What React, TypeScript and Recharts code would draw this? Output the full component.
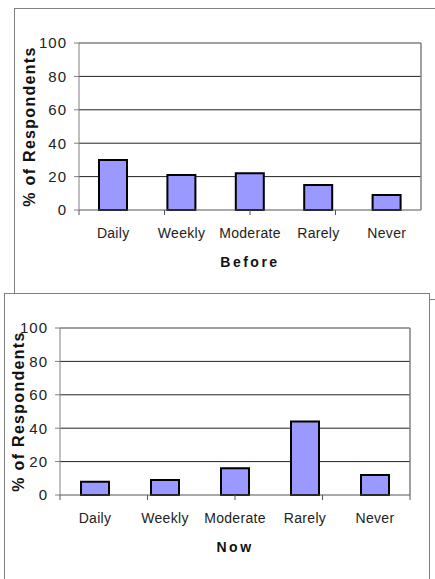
import React from 'react';
import { BarChart, Bar, XAxis, YAxis, CartesianGrid } from 'recharts';

const categories = ['Daily', 'Weekly', 'Moderate', 'Rarely', 'Never'];
const beforeValues = [30, 21, 22, 15, 9];
const nowValues = [8, 9, 16, 44, 12];
const yTicks = [0, 20, 40, 60, 80, 100];
const gridValues = [20, 40, 60, 80];
const boundaryTicks = [0, 1, 2, 3, 4, 5];

const FONT = 'Arial, "Liberation Sans", sans-serif';
const GRAY = '#808080';

type PanelProps = {
  values: number[];
  title: string;
  plotLeft: number;
  plotRight: number;
  labelX: number;
};

function Panel({ values, title, plotLeft, plotRight, labelX }: PanelProps) {
  const data = categories.map((c, i) => ({ name: c, value: values[i] }));
  const W = 435;
  const H = 290;
  return (
    <BarChart
      width={W}
      height={H}
      data={data}
      margin={{ top: 42, right: W - plotRight - 1, bottom: 0, left: 0 }}
      barSize={28}
    >
      <CartesianGrid
        xAxisId="cat"
        vertical={false}
        horizontalValues={gridValues}
        stroke="#222"
        strokeWidth={1}
      />
      <XAxis
        xAxisId="bound"
        type="number"
        domain={[0, 5]}
        ticks={boundaryTicks}
        allowDataOverflow
        height={1}
        tick={() => <g />}
        tickSize={5}
        tickLine={{ stroke: '#555' }}
        axisLine={{ stroke: '#555' }}
      />
      <XAxis
        xAxisId="cat"
        dataKey="name"
        height={79}
        axisLine={false}
        tickLine={false}
        tickMargin={11}
        tick={{ fill: '#222', fontSize: 14, fontFamily: FONT, letterSpacing: 0.3 }}
        interval={0}
        label={{
          value: title,
          position: 'insideBottom',
          offset: 23,
          fill: '#111',
          fontSize: 14,
          fontWeight: 'bold',
          fontFamily: FONT,
          letterSpacing: 2.5,
        }}
      />
      <XAxis
        xAxisId="top"
        orientation="top"
        height={1}
        tick={false}
        tickLine={false}
        axisLine={{ stroke: GRAY, strokeWidth: 1.5 }}
      />
      <YAxis
        yAxisId="r"
        orientation="right"
        width={1}
        domain={[0, 100]}
        tick={false}
        tickLine={false}
        axisLine={{ stroke: GRAY, strokeWidth: 1.5 }}
      />
      <YAxis
        domain={[0, 100]}
        ticks={yTicks}
        width={plotLeft}
        interval={0}
        tickSize={5}
        tickMargin={7}
        tickLine={{ stroke: GRAY }}
        axisLine={{ stroke: GRAY }}
        tick={{ fill: '#222', fontSize: 15, fontFamily: FONT, letterSpacing: 1 }}
        label={(props: any) => {
          const vb = props.viewBox || {};
          const cx = (vb.x ?? 0) + labelX;
          const cy = (vb.y ?? 0) + (vb.height ?? 0) / 2;
          return (
            <text
              x={cx}
              y={cy}
              transform={`rotate(-90, ${cx}, ${cy})`}
              textAnchor="middle"
              dominantBaseline="central"
              fill="#111"
              fontSize={16}
              fontWeight="bold"
              fontFamily={FONT}
              letterSpacing={1.3}
            >
              % of Respondents
            </text>
          );
        }}
      />
      <Bar
        xAxisId="cat"
        dataKey="value"
        fill="#9999FF"
        stroke="#000"
        strokeWidth={2}
        isAnimationActive={false}
      />
    </BarChart>
  );
}

export default function App() {
  return (
    <div
      style={{
        position: 'absolute',
        left: 0,
        top: 0,
        width: 435,
        height: 579,
        overflow: 'hidden',
        background: '#fff',
      }}
    >
      <div
        style={{
          position: 'absolute',
          left: 14,
          top: 8,
          width: 500,
          height: 290,
          border: `1.5px solid ${GRAY}`,
          background: '#fff',
        }}
      />
      <div style={{ position: 'absolute', left: 0, top: 0 }}>
        <Panel values={beforeValues} title="Before" plotLeft={79} plotRight={421} labelX={29} />
      </div>
      <div
        style={{
          position: 'absolute',
          left: 4,
          top: 293,
          width: 424,
          height: 400,
          border: `1.5px solid ${GRAY}`,
          background: '#fff',
        }}
      />
      <div style={{ position: 'absolute', left: 0, top: 285 }}>
        <Panel values={nowValues} title="Now" plotLeft={60} plotRight={410} labelX={18} />
      </div>
    </div>
  );
}
